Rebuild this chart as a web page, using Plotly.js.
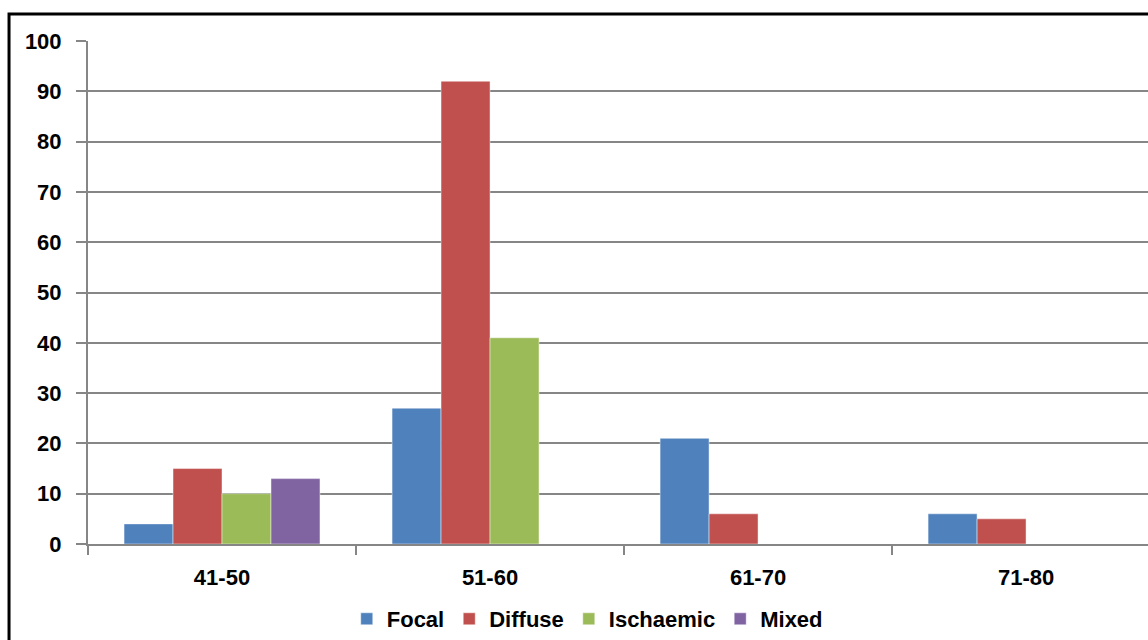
<!DOCTYPE html>
<html>
<head>
<meta charset="utf-8">
<script src="https://cdn.plot.ly/plotly-3.0.1.min.js"></script>
<style>html,body{margin:0;padding:0;background:#fff;}#chart{width:1148px;height:640px;}</style>
</head>
<body>
<div id="chart"></div>
<script>
const categories = ['41-50', '51-60', '61-70', '71-80'];
const focal = [4, 27, 21, 6];
const diffuse = [15, 92, 6, 5];
const ischaemic = [10, 41, 0, 0];
const mixed = [13, 0, 0, 0];
const seriesNames = ['Focal', 'Diffuse', 'Ischaemic', 'Mixed'];
const seriesColors = ['#4F81BD', '#C0504D', '#9BBB59', '#8064A2'];
const seriesValues = [focal, diffuse, ischaemic, mixed];

const FONT = '"Liberation Sans", Arial, sans-serif';
const FS = 22;

const traces = seriesValues.map((vals, i) => ({
  type: 'bar',
  name: seriesNames[i],
  x: categories,
  y: vals,
  marker: {color: seriesColors[i], line: {color: 'rgba(255,255,255,0.45)', width: 1}},
  hoverinfo: 'x+y+name'
}));

const layout = {
  width: 1148,
  height: 640,
  margin: {l: 88, r: 0, t: 41, b: 94},
  paper_bgcolor: '#ffffff',
  plot_bgcolor: '#ffffff',
  barmode: 'group',
  bargap: 0.269,
  bargroupgap: 0,
  font: {family: FONT, size: FS, color: '#000'},
  xaxis: {
    type: 'category',
    range: [-0.5, 3.455],
    showline: true,
    linecolor: '#868686',
    linewidth: 2,
    ticks: 'outside',
    tickson: 'boundaries',
    ticklen: 9,
    tickwidth: 2,
    tickcolor: '#868686',
    ticklabelstandoff: 13,
    showgrid: false,
    zeroline: false,
    tickfont: {family: FONT, size: FS, color: '#000', weight: 'bold'}
  },
  yaxis: {
    range: [0, 100],
    dtick: 10,
    tick0: 0,
    showline: true,
    linecolor: '#868686',
    linewidth: 2,
    ticks: 'outside',
    ticklen: 10,
    tickwidth: 2,
    tickcolor: '#868686',
    showgrid: true,
    gridcolor: '#868686',
    gridwidth: 2,
    zeroline: false,
    ticklabelstandoff: 10,
    tickfont: {family: FONT, size: FS, color: '#000', weight: 'bold'}
  },
  legend: {
    orientation: 'h',
    x: 0.471,
    xanchor: 'center',
    y: -0.15,
    yanchor: 'middle',
    font: {family: FONT, size: FS, color: '#000', weight: 'bold'},
    itemwidth: 30,
    bgcolor: 'rgba(0,0,0,0)'
  },
  shapes: [{
    type: 'rect',
    xref: 'paper', yref: 'paper',
    x0: -0.0745, x1: 1.5,
    y0: -0.5, y1: 1.0535,
    line: {color: '#000', width: 3},
    fillcolor: 'rgba(0,0,0,0)',
    layer: 'above'
  }],
  showlegend: true
};

Plotly.newPlot('chart', traces, layout, {displayModeBar: false, staticPlot: true});
</script>
</body>
</html>
